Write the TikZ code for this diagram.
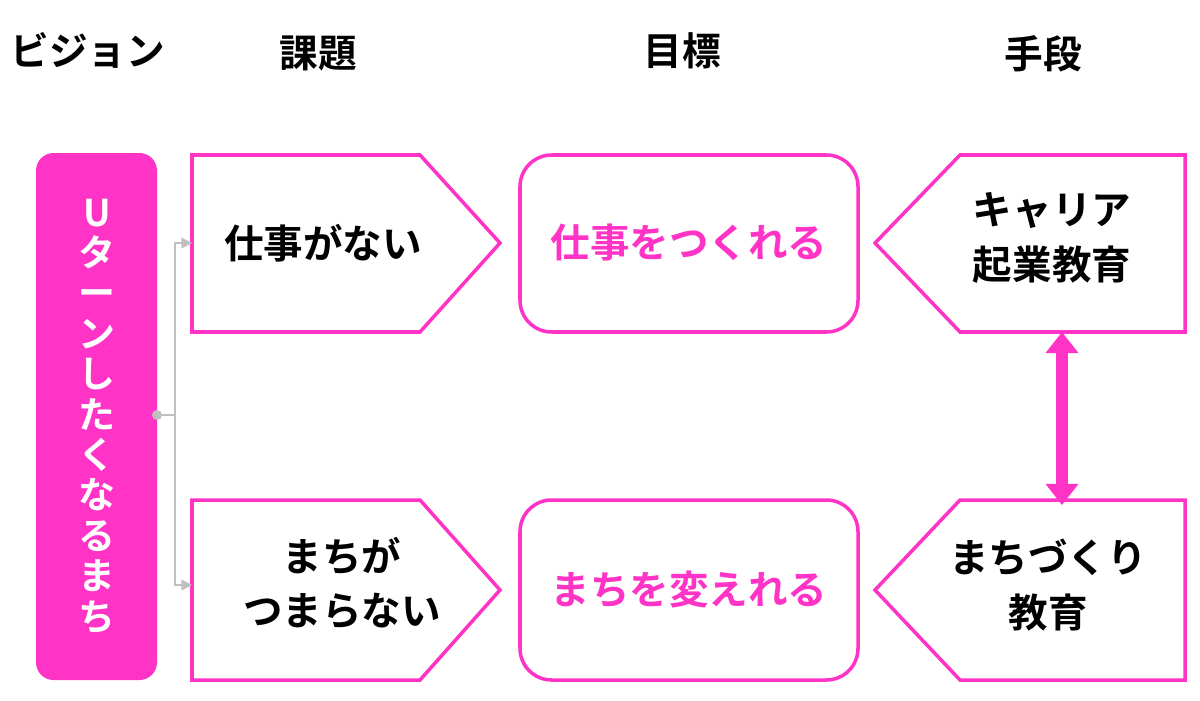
\documentclass[tikz,border=0pt]{standalone}
\usepackage{fontspec}
\setmainfont{Noto Sans CJK JP Bold}
\usetikzlibrary{arrows.meta}
\definecolor{pinkmain}{HTML}{FF33C6}
\tikzset{
    head/.style={font=\fontsize{22}{26}\selectfont},
    boxline/.style={draw=pinkmain,line width=2pt},
    boxtext/.style={font=\fontsize{22.5}{31}\selectfont,align=center},
    link/.style={draw=black!25,line width=0.8pt}
}
\begin{document}
\begin{tikzpicture}[x=0.02cm,y=-0.02cm]
    \useasboundingbox (0,0) rectangle (1200,700);
    % Headers
    \node[head] (hvision) at (88,50) {ビジョン};
    \node[head] (hissue) at (318,54) {課題};
    \node[head] (hgoal) at (682,51) {目標};
    \node[head] (hmeans) at (1043,54) {手段};

    % Vision
    \fill[pinkmain,rounded corners=10pt] (36,153) rectangle (157,680);
    \node[text=white,font=\fontsize{21}{23}\selectfont,align=center] (vision) at (97,416)
        {U\\タ\\ー\\ン\\し\\た\\く\\な\\る\\ま\\ち};

    % Issues
    \draw[boxline] (192,155) -- (420,155) -- (500,243) -- (420,332) -- (192,332) -- cycle;
    \node[boxtext] (issue1) at (323,243) {仕事がない};
    \draw[boxline] (192,500) -- (420,500) -- (500,590) -- (420,680) -- (192,680) -- cycle;
    \node[boxtext] (issue2) at (342,583) {まちが\\つまらない};

    % Goals
    \draw[boxline,rounded corners=18pt] (520,155) rectangle (858,332);
    \node[boxtext,text=pinkmain] (goal1) at (689,243) {仕事をつくれる};
    \draw[boxline,rounded corners=18pt] (520,500) rectangle (858,680);
    \node[boxtext,text=pinkmain] (goal2) at (689,590) {まちを変えれる};

    % Means
    \draw[boxline] (1185,155) -- (960,155) -- (875,243) -- (960,332) -- (1185,332) -- cycle;
    \node[boxtext] (means1) at (1052,238) {キャリア\\起業教育};
    \draw[boxline] (1185,500) -- (960,500) -- (875,590) -- (960,680) -- (1185,680) -- cycle;
    \node[boxtext] (means2) at (1048,585) {まちづくり\\教育};

    \coordinate (mtop) at (1062,332);
    \coordinate (mbot) at (1062,505);
    \draw[pinkmain,line width=7pt,{Triangle[width=18pt,length=12pt]}-{Triangle[width=18pt,length=12pt]}] (mtop) -- (mbot);

    % Connector
    \coordinate (vout) at (157,415);
    \coordinate (fork) at (175,415);
    \coordinate (in1) at (192,243);
    \coordinate (in2) at (192,585);
    \fill[black!25] (vout) circle (5);
    \draw[link] (vout) -- (fork);
    \draw[link,-{Triangle[width=6pt,length=6pt]}] (fork) |- (in1);
    \draw[link,-{Triangle[width=6pt,length=6pt]}] (fork) |- (in2);
\end{tikzpicture}
\end{document}
